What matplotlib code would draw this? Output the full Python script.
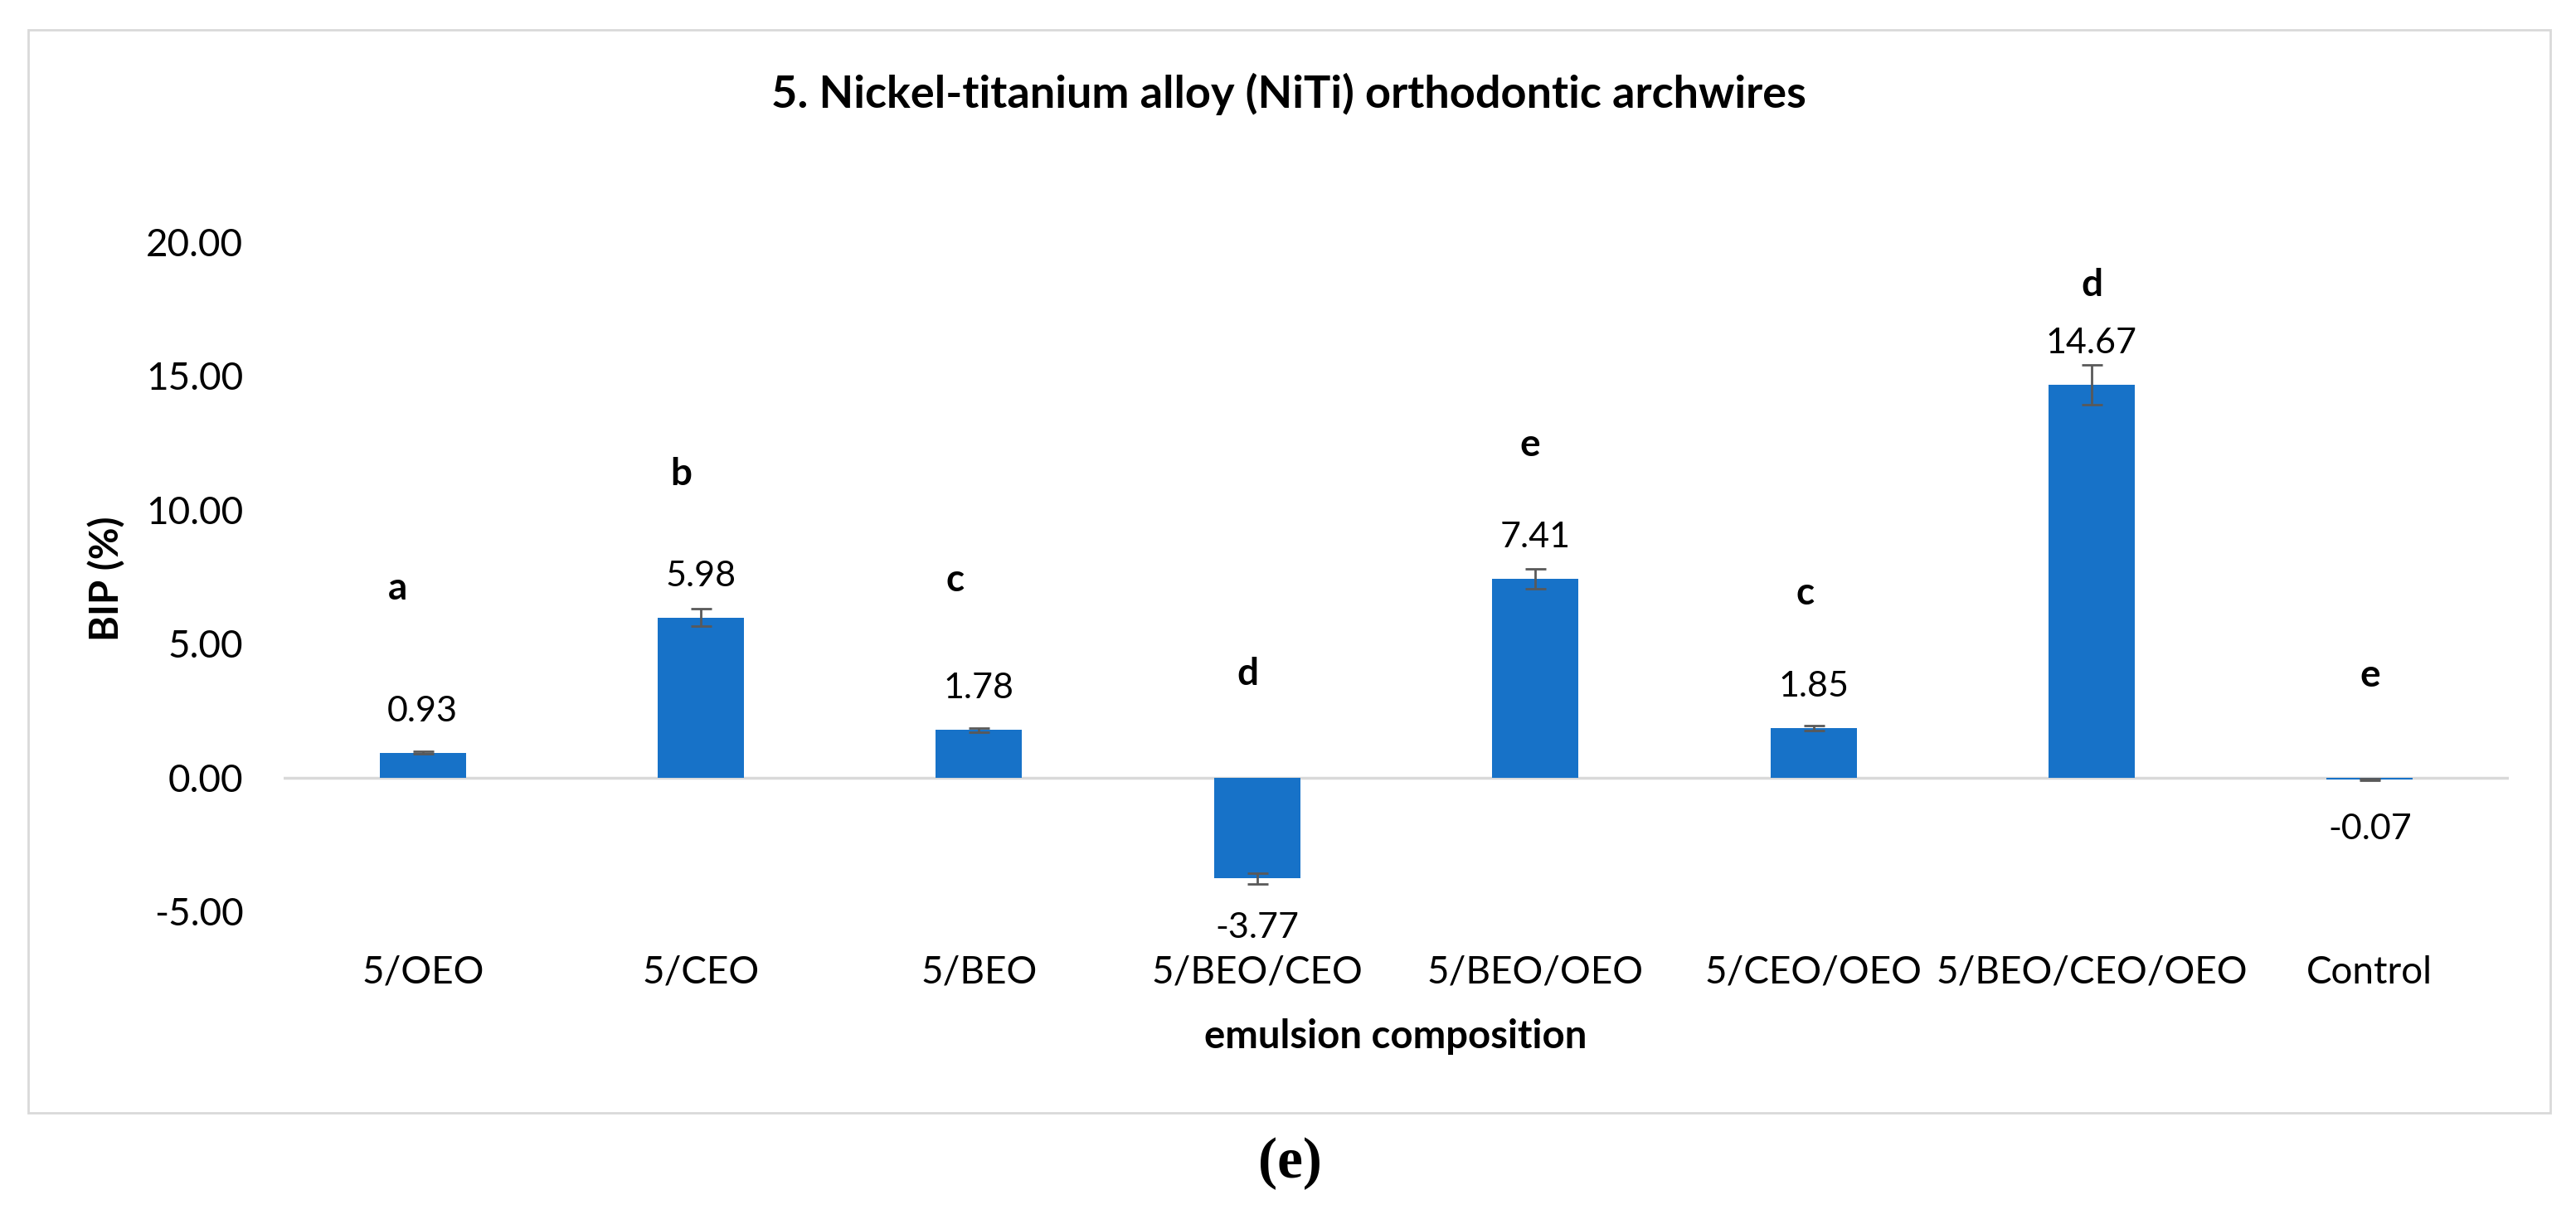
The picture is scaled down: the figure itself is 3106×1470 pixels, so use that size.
import matplotlib
matplotlib.use("Agg")
import matplotlib.pyplot as plt
import numpy as np
from matplotlib.patches import Rectangle

# data
groups = ["5/OEO", "5/CEO", "5/BEO", "5/BEO/CEO", "5/BEO/OEO",
          "5/CEO/OEO", "5/BEO/CEO/OEO", "Control"]
bip = [0.93, 5.98, 1.78, -3.77, 7.41, 1.85, 14.67, -0.07]
bip_err = [0.05, 0.32, 0.08, 0.20, 0.37, 0.10, 0.75, 0.03]
letters = ["a", "b", "c", "d", "e", "c", "d", "e"]
letter_y = [7.06, 11.33, 7.37, 3.87, 12.41, 6.87, 18.4, 3.8]
letter_dx = [-0.09, -0.07, -0.085, -0.035, -0.02, -0.03, 0.0, 0.0]
yticks = [-5, 0, 5, 10, 15, 20]

plt.rcParams["font.family"] = ["Lato", "DejaVu Sans"]
plt.rcParams["axes.unicode_minus"] = False

W, H = 3106, 1470
fig = plt.figure(figsize=(W / 100, H / 100), dpi=100)

# chart frame
fig.patches.append(Rectangle((34 / W, 1 - 1342 / H), (3075 - 34) / W,
                             (1342 - 36) / H, transform=fig.transFigure,
                             fill=False, ec="#D9D9D9", lw=2))

ax = fig.add_axes([342 / W, 1 - 1099 / H, (3025 - 342) / W, (1099 - 292) / H])
x = np.arange(len(groups))

ax.bar(x, bip, width=0.31, color="#1772C8", zorder=2)
ax.errorbar(x, bip, yerr=bip_err, fmt="none", ecolor="#595959",
            elinewidth=2, capsize=9, capthick=2, zorder=3)
ax.axhline(0, color="#D9D9D9", lw=2.5, zorder=1)

for i, v in enumerate(bip):
    off = 36 if v >= 0 else -43
    ax.annotate("%.2f" % v, (i, v), xytext=(0, off), textcoords="offset points",
                ha="center", va="center", fontsize=31)
    ax.text(i + letter_dx[i], letter_y[i], letters[i], ha="center",
            va="center", fontsize=33, fontweight="bold")

ax.set_xlim(-0.5, len(groups) - 0.5)
ax.set_ylim(-5, 20)
ax.set_yticks(yticks)
ax.set_yticklabels(["%.2f" % t for t in yticks])
ax.set_xticks(x)
ax.set_xticklabels(groups)
ax.tick_params(axis="y", length=0, pad=35, labelsize=33)
ax.tick_params(axis="x", length=0, pad=38, labelsize=33)
for s in ax.spines.values():
    s.set_visible(False)

fig.text(1554 / W, 1 - 113 / H,
         "5. Nickel-titanium alloy (NiTi) orthodontic archwires",
         ha="center", va="center", fontsize=39, fontweight="bold")
fig.text(1683 / W, 1 - 1250 / H, "emulsion composition", ha="center",
         va="center", fontsize=34, fontweight="bold")
fig.text(129 / W, 1 - 698 / H, "BIP (%)", ha="center", va="center",
         rotation=90, fontsize=34, fontweight="bold")
fig.text(1555 / W, 1 - 1403 / H, "(e)", ha="center", va="center",
         fontsize=50, family="Liberation Serif", fontweight="bold")

fig.savefig("out.png", dpi=100)
